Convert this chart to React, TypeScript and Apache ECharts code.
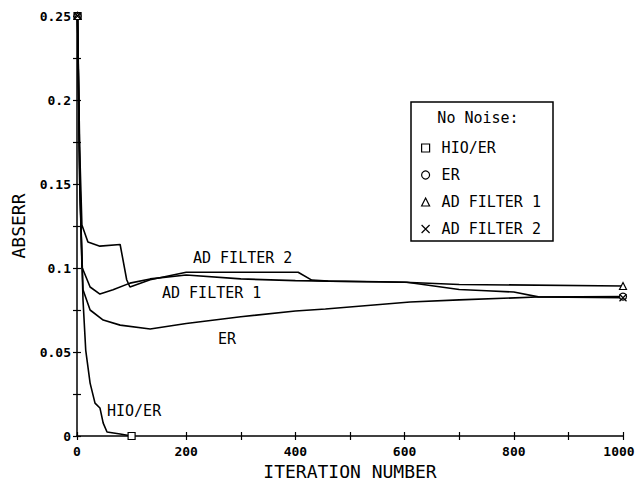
import React, { useEffect, useRef } from "react";
import * as echarts from "echarts";

const xTickLabels = ["0", "200", "400", "600", "800", "1000"];
const yTickLabels = ["0", "0.05", "0.1", "0.15", "0.2", "0.25"];

const iterHIO = [1, 5, 11, 16, 24, 33, 42, 48, 55, 79, 100];
const hioER = [0.25, 0.15, 0.081, 0.051, 0.0315, 0.0196, 0.0167, 0.0077, 0.0024, 0.0012, 0];

const iterER = [1, 5, 11, 24, 48, 79, 134, 200, 300, 400, 455, 610, 700, 842, 1000];
const er = [0.25, 0.15, 0.087, 0.075, 0.069, 0.066, 0.0637, 0.067, 0.071, 0.0744, 0.0756, 0.0798, 0.081, 0.0827, 0.083];

const iterAD1 = [1, 5, 9, 24, 42, 66, 97, 134, 200, 300, 400, 500, 600, 700, 1000];
const ad1 = [0.25, 0.16, 0.1006, 0.0887, 0.0845, 0.087, 0.091, 0.0935, 0.0958, 0.0935, 0.0925, 0.092, 0.0915, 0.0902, 0.0893];

const iterAD2 = [1, 5, 9, 20, 42, 79, 91, 97, 134, 200, 405, 430, 460, 555, 604, 700, 750, 800, 845, 1000];
const ad2 = [0.25, 0.17, 0.1256, 0.1155, 0.113, 0.114, 0.093, 0.0887, 0.093, 0.0975, 0.0975, 0.0928, 0.0922, 0.0918, 0.0915, 0.0872, 0.0865, 0.0857, 0.0828, 0.0823];

const seriesNames = ["HIO/ER", "ER", "AD FILTER 1", "AD FILTER 2"];
const FONT = "'DejaVu Sans Mono', monospace";
const XMARK = "path://M0,0L10,10M10,0L0,10";

function pairs(xs: number[], ys: number[]) {
  return xs.map((x, i) => [x, ys[i]]);
}

export default function App() {
  const ref = useRef<HTMLDivElement>(null);
  useEffect(() => {
    if (!ref.current) return;
    const chart = echarts.init(ref.current, null, { renderer: "svg" });
    const mkSeries = (name: string, xs: number[], ys: number[], symbol: string) => ({
      name,
      type: "line",
      data: pairs(xs, ys),
      symbol,
      showSymbol: true,
      showAllSymbol: true,
      symbolSize: (_v: any, p: any) => (p.dataIndex === 0 || p.dataIndex === xs.length - 1 ? 7 : 0),
      lineStyle: { color: "#000", width: 1.6 },
      itemStyle: { color: "#fff", borderColor: "#000", borderWidth: 1.2 },
      emphasis: { disabled: true },
      z: 3,
    });
    const yFmt = (v: number) => {
      const k = Math.round(v / 0.025);
      return k % 2 === 0 ? yTickLabels[k / 2] : "";
    };
    const xFmt = (v: number) => {
      const k = Math.round(v / 100);
      if (k % 2 !== 0) return "";
      const idx = k / 2;
      return idx === xTickLabels.length - 1 ? "{last|" + xTickLabels[idx] + "}" : xTickLabels[idx];
    };
    const tickFont = { fontFamily: FONT, fontSize: 13, fontWeight: "bold", color: "#000" };
    chart.setOption({
      animation: false,
      backgroundColor: "#fff",
      grid: { left: 77, right: 13, top: 16, bottom: 45, outerBoundsMode: "none", containLabel: false },
      xAxis: [
        {
          type: "value",
          min: 0,
          max: 1000,
          interval: 100,
          name: "ITERATION NUMBER",
          nameLocation: "middle",
          nameGap: 21,
          nameTextStyle: { fontFamily: FONT, fontSize: 18, color: "#000", verticalAlign: "top" },
          axisLine: { lineStyle: { color: "#000", width: 1.5 } },
          axisTick: { show: true, inside: false, length: 4, lineStyle: { color: "#000", width: 1.2 } },
          axisLabel: {
            formatter: xFmt,
            margin: 9,
            ...tickFont,
            rich: { last: { ...tickFont, padding: [0, 8, 0, 0] } },
          },
          splitLine: { show: false },
        },
        {
          type: "value",
          min: 0,
          max: 1000,
          interval: 100,
          position: "bottom",
          axisLine: { show: false },
          axisTick: { show: true, inside: true, length: 4, lineStyle: { color: "#000", width: 1.2 } },
          axisLabel: { show: false },
          splitLine: { show: false },
        },
      ],
      yAxis: [
        {
          type: "value",
          min: 0,
          max: 0.25,
          interval: 0.025,
          name: "ABSERR",
          nameLocation: "middle",
          nameGap: 50,
          nameTextStyle: { fontFamily: FONT, fontSize: 18, color: "#000" },
          axisLine: { show: true, lineStyle: { color: "#000", width: 1.5 } },
          axisTick: { show: true, inside: false, length: 4, lineStyle: { color: "#000", width: 1.2 } },
          axisLabel: { formatter: yFmt, margin: 6, ...tickFont },
          splitLine: { show: false },
        },
        {
          type: "value",
          min: 0,
          max: 0.25,
          interval: 0.025,
          position: "left",
          axisLine: { show: false },
          axisTick: { show: true, inside: true, length: 4, lineStyle: { color: "#000", width: 1.2 } },
          axisLabel: { show: false },
          splitLine: { show: false },
        },
      ],
      legend: {
        orient: "vertical",
        left: 421,
        top: 140,
        padding: 0,
        itemGap: 11,
        itemWidth: 8,
        itemHeight: 8,
        selectedMode: false,
        textStyle: { fontFamily: FONT, fontSize: 15, color: "#000", lineHeight: 16, padding: [0, 0, 0, 7] },
        itemStyle: { color: "#fff", borderColor: "#000", borderWidth: 1.2 },
        data: [
          { name: seriesNames[0], icon: "rect" },
          { name: seriesNames[1], icon: "circle" },
          { name: seriesNames[2], icon: "triangle" },
          { name: seriesNames[3], icon: XMARK },
        ],
      },
      graphic: [
        {
          type: "rect",
          shape: { x: 411, y: 102, width: 142, height: 139 },
          style: { fill: "none", stroke: "#000", lineWidth: 1.5 },
          z: 1,
        },
        {
          type: "text",
          x: 478,
          y: 118,
          style: { text: "No Noise:", align: "center", verticalAlign: "middle", fontFamily: FONT, fontSize: 15, fill: "#000" },
        },
        {
          type: "text",
          x: 193,
          y: 258,
          style: { text: "AD FILTER 2", align: "left", verticalAlign: "middle", fontFamily: FONT, fontSize: 15, fill: "#000" },
        },
        {
          type: "text",
          x: 162,
          y: 293,
          style: { text: "AD FILTER 1", align: "left", verticalAlign: "middle", fontFamily: FONT, fontSize: 15, fill: "#000" },
        },
        {
          type: "text",
          x: 218,
          y: 339,
          style: { text: "ER", align: "left", verticalAlign: "middle", fontFamily: FONT, fontSize: 15, fill: "#000" },
        },
        {
          type: "text",
          x: 107,
          y: 411,
          style: { text: "HIO/ER", align: "left", verticalAlign: "middle", fontFamily: FONT, fontSize: 15, fill: "#000" },
        },
      ],
      series: [
        mkSeries(seriesNames[0], iterHIO, hioER, "rect"),
        mkSeries(seriesNames[1], iterER, er, "circle"),
        mkSeries(seriesNames[2], iterAD1, ad1, "triangle"),
        mkSeries(seriesNames[3], iterAD2, ad2, XMARK),
      ],
    });
    return () => chart.dispose();
  }, []);
  return (
    <div
      ref={ref}
      style={{ position: "fixed", left: 0, top: 0, width: 636, height: 481, background: "#fff" }}
    />
  );
}
